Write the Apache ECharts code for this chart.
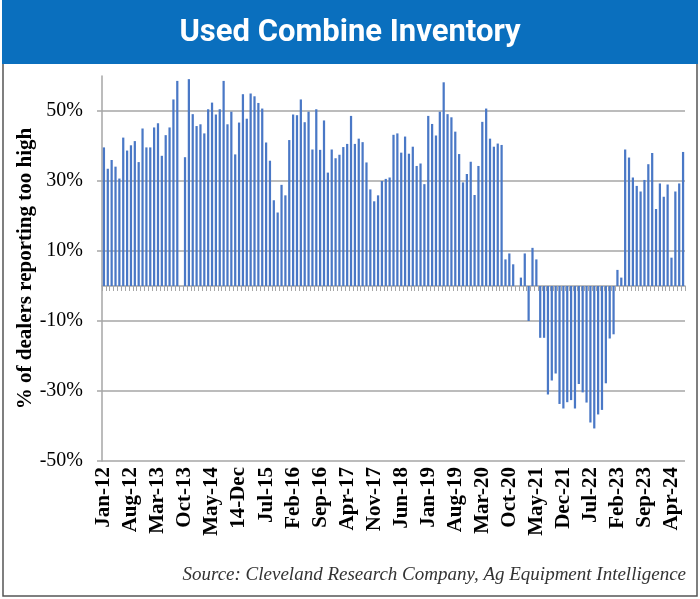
<!DOCTYPE html>
<html>
<head>
<meta charset="utf-8">
<script src="https://cdn.jsdelivr.net/npm/echarts@6/dist/echarts.min.js"></script>
<style>
html,body{margin:0;padding:0;background:#fff;}
#chart{width:700px;height:599px;}
</style>
</head>
<body>
<div id="chart"></div>
<script>
// ---- data ----
var monthNames = ['Jan','Feb','Mar','Apr','May','Jun','Jul','Aug','Sep','Oct','Nov','Dec'];
var firstYear = 12, monthCount = 151; // Jan-12 .. Jul-24
var yTicks = [-50, -30, -10, 10, 30, 50];

var v2012 = [39.6,33.5,36,34.1,30.7,42.4,38.7,40.2,41.4,35.4,45,39.6];
var v2013 = [39.6,45.3,46.5,37.2,43.1,45.3,53.3,58.6,null,36.8,59.1,49.1];
var v2014 = [45.7,46.2,43.6,50.5,52.4,49,50.5,58.6,46.2,49.8,37.6,46.7];
var v2015 = [54.8,47.8,55,54.2,52.3,50.7,41,35.8,24.5,21,28.9,25.9];
var v2016 = [41.7,49,48.8,53.3,46.8,49.8,39,50.5,38.9,47.3,32.4,39];
var v2017 = [36.5,37.5,39.7,40.6,48.6,40.6,42.1,41.1,35.3,27.6,24.2,25.9];
var v2018 = [30,30.6,31,43.2,43.6,38.1,42.7,37.8,39.8,34.3,35,29.1];
var v2019 = [48.6,46.3,43,49.8,58.2,49.1,48.2,44.1,37.7,29.6,32,35.5];
var v2020 = [26,34.3,46.9,50.7,42.1,39.8,40.7,40.3,7.6,9.3,6.2,null];
var v2021 = [2.4,9.3,-10,10.9,7.6,-14.8,-14.8,-31,-27,-25,-33.7,-35];
var v2022 = [-33.2,-32.6,-35,-28,-30.4,-33.3,-39,-40.7,-36.7,-35.4,-27.8,-15];
var v2023 = [-13.8,4.6,2.4,39,36.7,31,28.6,27,30.3,34.8,38,22];
var v2024 = [29.3,25.5,29,8.1,27,29.3,38.3];

var values = [].concat(v2012,v2013,v2014,v2015,v2016,v2017,v2018,v2019,v2020,v2021,v2022,v2023,v2024);

var categories = [];
for (var i = 0; i < monthCount; i++) {
  var m = i % 12, y = firstYear + Math.floor(i / 12);
  categories.push(monthNames[m] + '-' + y);
}
categories[35] = '14-Dec'; // as printed in the source chart

// ---- chart ----
var chart = echarts.init(document.getElementById('chart'), null, {renderer:'canvas'});
var gridCol = '#a6a6a6';
var option = {
  animation: false,
  backgroundColor: '#ffffff',
  title: {
    text: 'Used Combine Inventory',
    left: 'center',
    top: 13,
    textStyle: {color:'#ffffff', fontFamily:'Roboto', fontWeight:'bold', fontSize:31}
  },
  graphic: [
    {type:'rect', shape:{x:3, y:1, width:694, height:595}, style:{fill:'none', stroke:'#555', lineWidth:1.5}, z:-10},
    {type:'rect', shape:{x:2, y:0, width:696, height:64}, style:{fill:'#0A6FBE'}, z:-5},
    {type:'text', right: 14, top: 565,
     style:{text:'Source: Cleveland Research Company, Ag Equipment Intelligence',
            fill:'#333', font:'italic 19px "Liberation Serif"', textAlign:'right'}}
  ],
  grid: [
    {left:102, right:15, top:76, bottom:138, containLabel:false},
    {left:102, right:15, top:111, bottom:138, containLabel:false}
  ],
  xAxis: [
    {
      type:'category', gridIndex:0, data:categories,
      axisLine:{show:true, onZero:true, lineStyle:{color:gridCol, width:1.5}},
      axisTick:{show:true, length:5, interval:0, lineStyle:{color:gridCol}},
      axisLabel:{show:false},
      splitLine:{show:false}
    },
    {
      type:'category', gridIndex:1, data:categories, position:'bottom',
      axisLine:{show:false, onZero:false},
      axisTick:{show:false},
      axisLabel:{show:true, interval:6, rotate:90, margin:6,
                 color:'#000', fontFamily:'Liberation Serif', fontWeight:'bold', fontSize:21},
      splitLine:{show:false}
    }
  ],
  yAxis: [
    {
      type:'value', gridIndex:0, min:-50, max:60,
      axisLine:{show:true, lineStyle:{color:gridCol, width:1.5}},
      axisTick:{show:false},
      axisLabel:{show:false},
      splitLine:{show:false},
      name:'% of dealers reporting too high',
      nameLocation:'middle', nameRotate:90, nameGap:66,
      nameTextStyle:{color:'#000', fontFamily:'Liberation Serif', fontWeight:'bold', fontSize:21}
    },
    {
      type:'value', gridIndex:1, min:yTicks[0], max:yTicks[yTicks.length-1], interval:yTicks[1]-yTicks[0],
      axisLine:{show:false},
      axisTick:{show:true, length:5, lineStyle:{color:gridCol, width:1.5}},
      axisLabel:{show:true, margin:19, formatter:'{value}%',
                 color:'#000', fontFamily:'Liberation Serif', fontSize:20},
      splitLine:{show:true, lineStyle:{color:gridCol, width:1.5}}
    }
  ],
  series: [
    {
      type:'bar', xAxisIndex:0, yAxisIndex:0, data:values,
      barWidth:'58%',
      itemStyle:{color:'#4a78c6'},
      z:3
    }
  ]
};
chart.setOption(option);
</script>
</body>
</html>
